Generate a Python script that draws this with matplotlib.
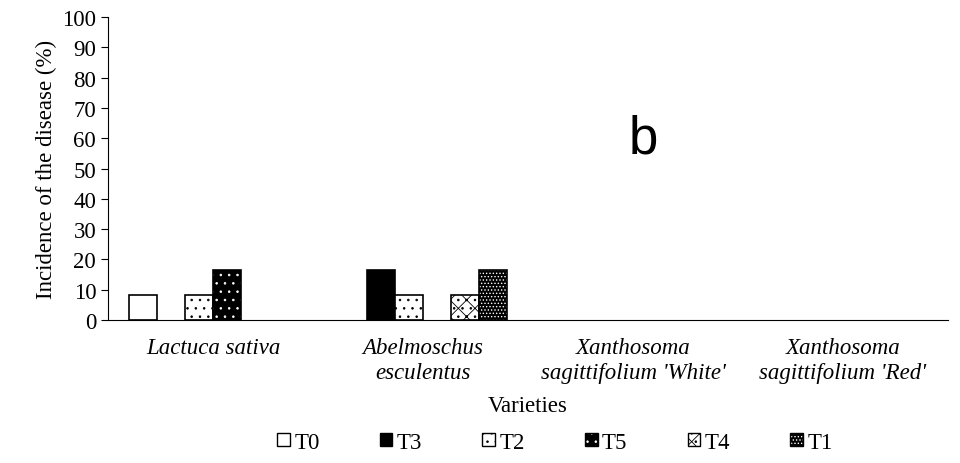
import numpy as np
import matplotlib.pyplot as plt
from matplotlib.patches import Patch

plt.rcParams['font.family'] = ['Liberation Serif', 'DejaVu Serif']
plt.rcParams['hatch.linewidth'] = 0.6

varieties = ['Lactuca sativa', 'Abelmoschus\nesculentus',
             "Xanthosoma\nsagittifolium 'White'", "Xanthosoma\nsagittifolium 'Red'"]
treatments = ['T0', 'T3', 'T2', 'T5', 'T4', 'T1']
incidence = {
    'T0': [8.33, 0, 0, 0],
    'T3': [0, 16.67, 0, 0],
    'T2': [8.33, 8.33, 0, 0],
    'T5': [16.67, 0, 0, 0],
    'T4': [0, 8.33, 0, 0],
    'T1': [0, 16.67, 0, 0],
}

# face, hatch colour, hatch
styles = {
    'T0': ('white', 'black', ''),
    'T3': ('black', 'black', ''),
    'T2': ('white', 'black', '..'),
    'T5': ('black', 'white', '..'),
    'T4': ('white', 'black', 'xx..'),
    'T1': ('black', 'white', '.....'),
}

fs = 16.5
fig, ax = plt.subplots(figsize=(9.6, 4.64), dpi=100)
fig.subplots_adjust(left=0.1125, right=0.9875, top=0.961, bottom=0.308)

x = np.arange(len(varieties))
w = 0.8 / len(treatments)
for i, t in enumerate(treatments):
    fc, hc, h = styles[t]
    vals = np.array(incidence[t], dtype=float)
    keep = vals > 0
    pos = (x - 0.4 + w * (i + 0.5))[keep]
    ax.bar(pos, vals[keep], w, color=fc, edgecolor=hc, hatch=h, linewidth=0)
    ax.bar(pos, vals[keep], w, color='none', edgecolor='black', linewidth=1.2)

ax.set_xlim(-0.5, len(varieties) - 0.5)
ax.set_ylim(0, 100)
ax.set_yticks(range(0, 101, 10))
ax.set_xticks(x)
ax.set_xticklabels(varieties, style='italic', fontsize=fs, linespacing=1.25)
ax.tick_params(axis='x', length=0, pad=12)
ax.tick_params(axis='y', labelsize=fs, direction='out', length=5)
ax.spines['top'].set_visible(False)
ax.spines['right'].set_visible(False)
ax.set_ylabel('Incidence of the disease (%)', fontsize=fs)
ax.set_xlabel('Varieties', fontsize=fs, labelpad=9)

ax.text(2.05, 60, 'b', fontsize=38, family='Liberation Sans', ha='center', va='center')

handles = []
for t in treatments:
    fc, hc, h = styles[t]
    handles.append((Patch(facecolor=fc, edgecolor=hc, hatch=h, linewidth=0),
                    Patch(facecolor='none', edgecolor='black', linewidth=1.0)))
fig.legend(handles=handles, labels=treatments, loc='lower center', ncol=6, frameon=False,
           bbox_to_anchor=(0.578, -0.022), fontsize=fs, handlelength=0.55,
           handleheight=0.55, handletextpad=0.2, columnspacing=2.62)

fig.savefig('out.png')
